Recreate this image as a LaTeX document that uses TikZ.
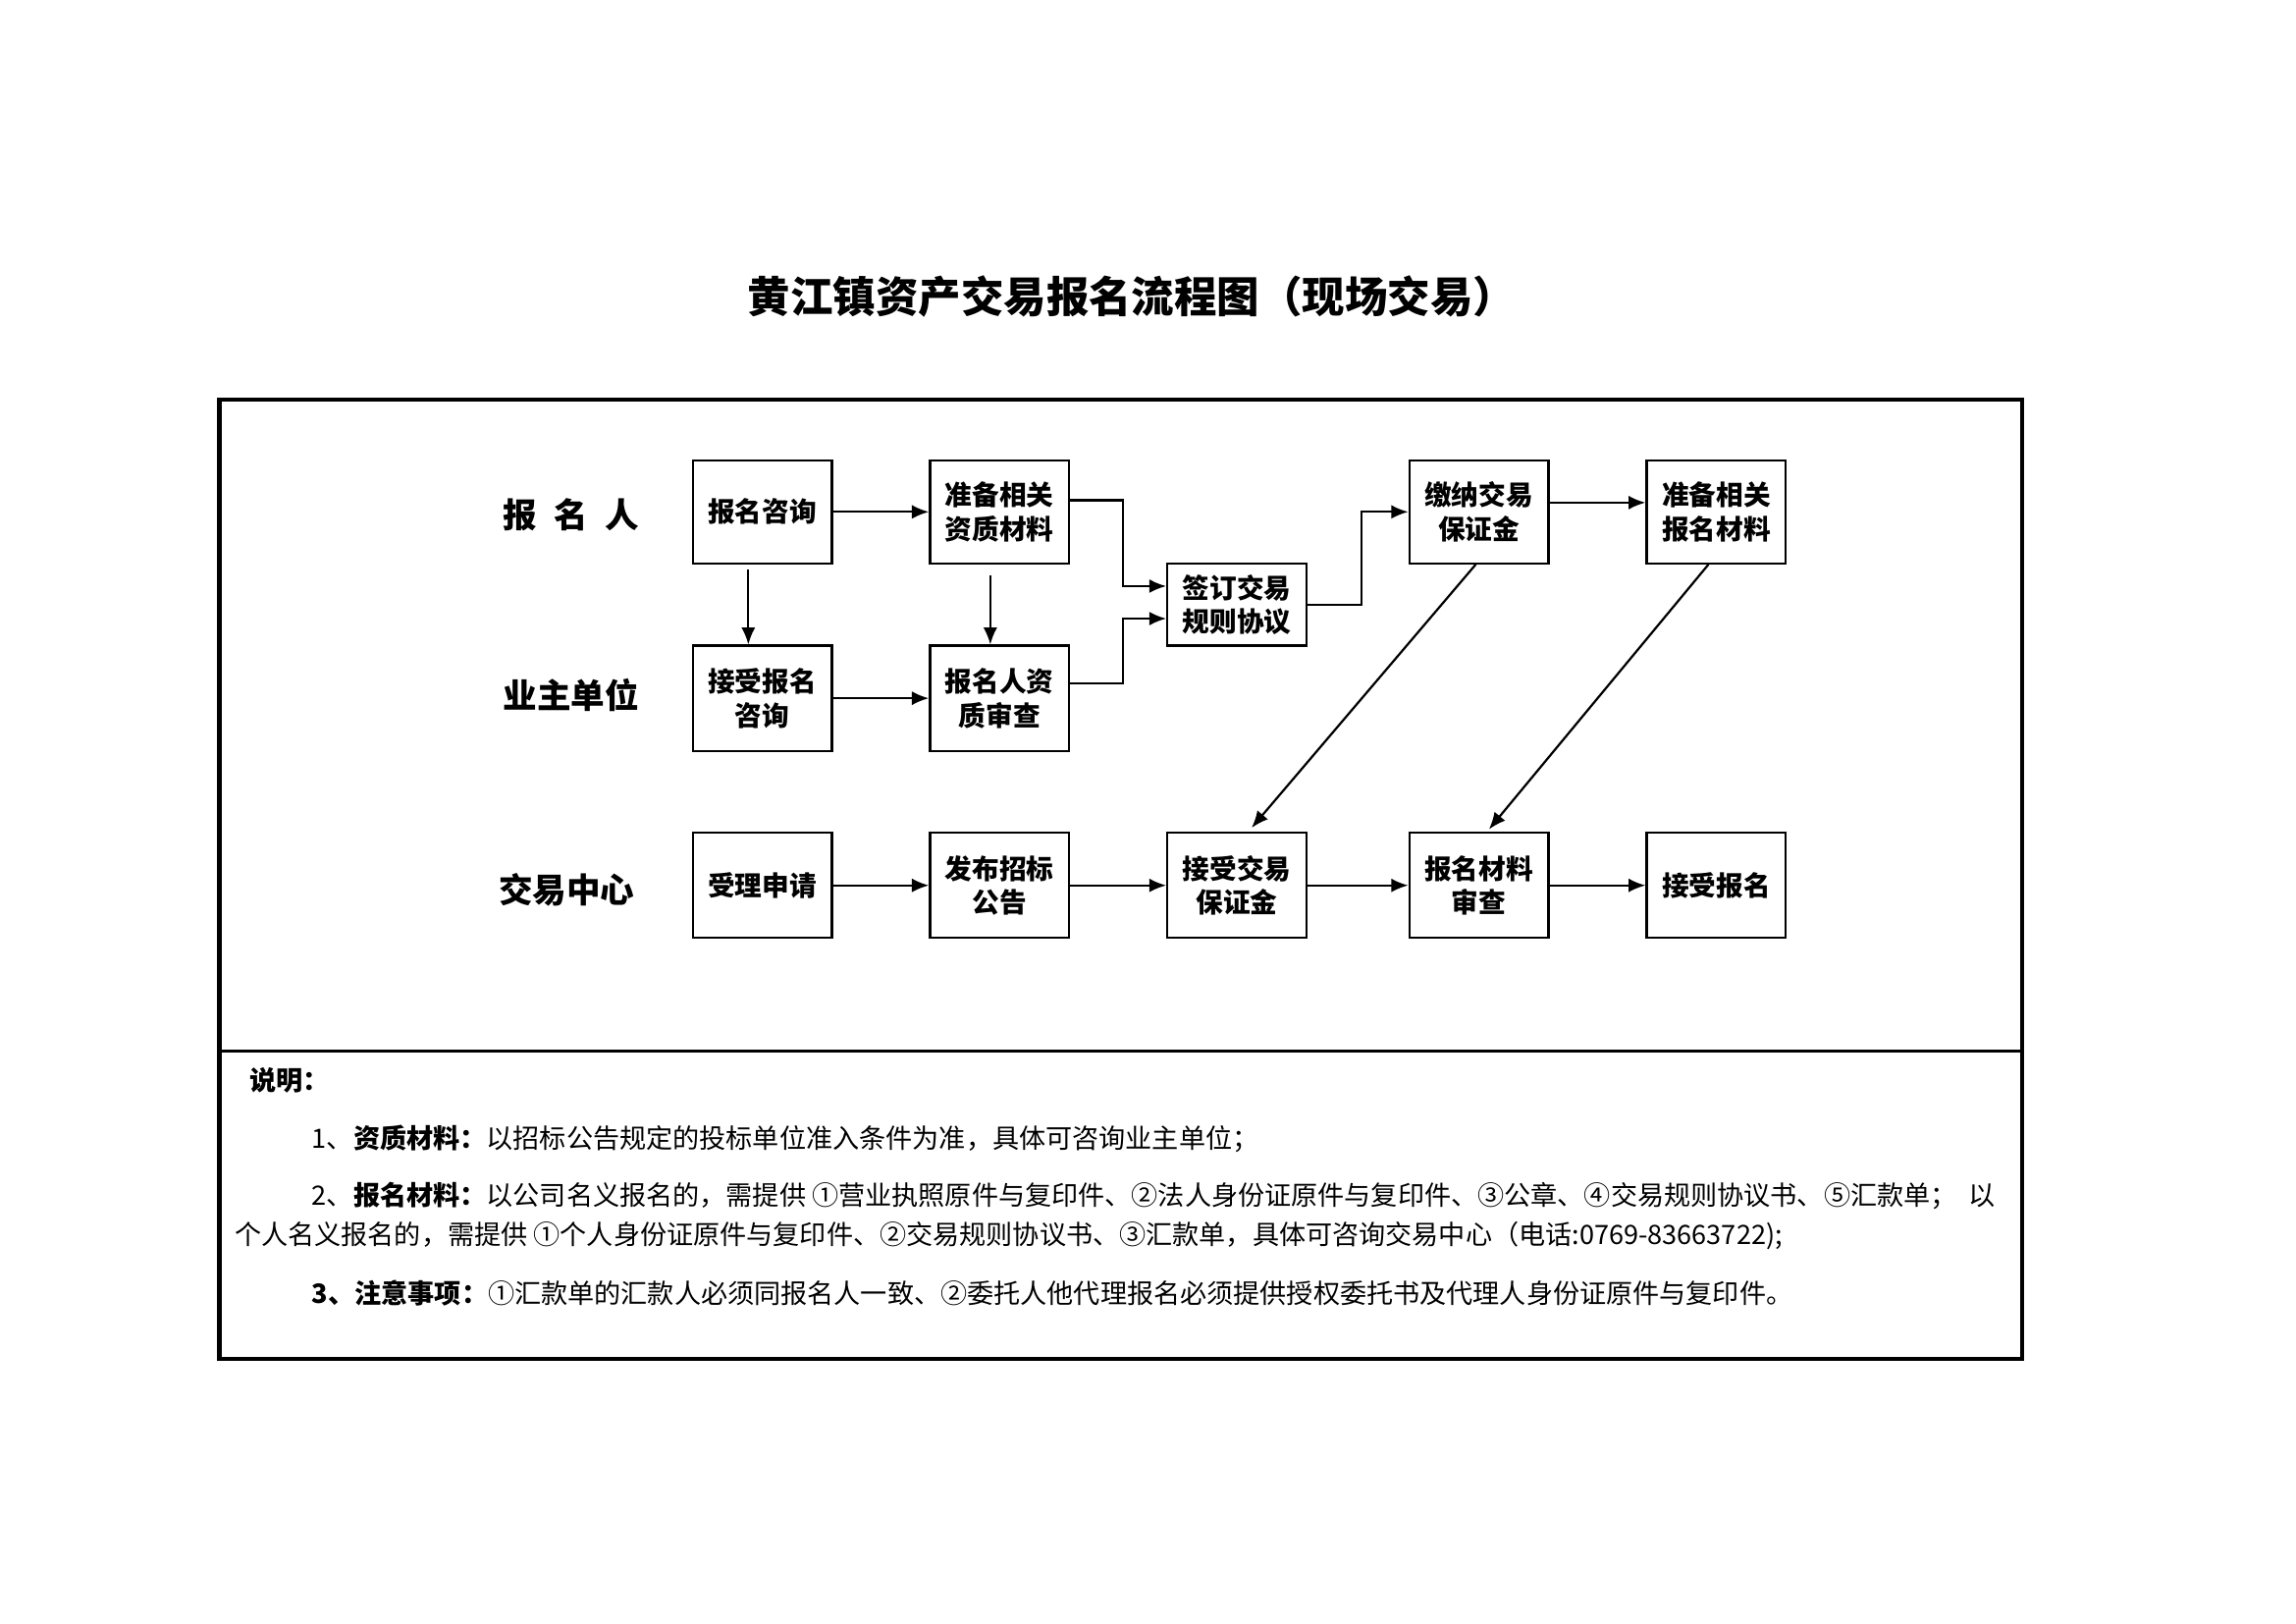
\documentclass[tikz,border=0pt]{standalone}
\usepackage{fontspec}
\setmainfont{Noto Sans CJK SC}
\usetikzlibrary{arrows.meta}

\begin{document}
\begin{tikzpicture}[
	box/.style={draw, line width=0.8pt, minimum width=1.8cm, minimum height=1.36cm, align=center, inner sep=1pt, font=\fontsize{10}{12.5}\selectfont\bfseries},
	lane/.style={font=\fontsize{12.5}{15}\selectfont\bfseries},
	flow/.style={-{Latex[length=2.2mm,width=1.8mm]}, line width=0.8pt},
	note/.style={anchor=west, inner sep=0pt, font=\fontsize{9.8}{12}\selectfont}
]
	\useasboundingbox (0,0) rectangle (29.7,21.0);

	\node[font=\fontsize{15.7}{18}\selectfont\bfseries] (title) at (14.64,17.16) {黄江镇资产交易报名流程图（现场交易）};

	\draw[line width=1.6pt] (2.84,3.43) rectangle (26.16,15.83);
	\draw[line width=1.2pt] (2.84,7.41) -- (26.16,7.41);

	% lanes
	\node[lane] (applicant) at (7.39,14.34) {报\hspace{0.5em}名\hspace{0.5em}人};
	\node[lane] (owner) at (7.39,12.01) {业主单位};
	\node[lane] (centre) at (7.33,9.49) {交易中心};

	% boxes
	\node[box, minimum height=1.33cm] (ask) at (9.86,14.38) {报名咨询};
	\node[box, minimum height=1.33cm] (qual) at (12.93,14.38) {准备相关\\资质材料};
	\node[box, minimum height=1.06cm] (sign) at (16.00,13.18) {签订交易\\规则协议};
	\node[box, minimum height=1.33cm] (pay) at (19.13,14.38) {缴纳交易\\保证金};
	\node[box, minimum height=1.33cm] (docs) at (22.20,14.38) {准备相关\\报名材料};

	\node[box] (take) at (9.86,11.97) {接受报名\\咨询};
	\node[box] (check) at (12.93,11.97) {报名人资\\质审查};

	\node[box] (accept) at (9.86,9.55) {受理申请};
	\node[box] (notice) at (12.93,9.55) {发布招标\\公告};
	\node[box] (deposit) at (16.00,9.55) {接受交易\\保证金};
	\node[box] (review) at (19.13,9.55) {报名材料\\审查};
	\node[box] (done) at (22.20,9.55) {接受报名};

	% connectors
	\draw[flow] (ask) -- (qual);
	\draw[flow, shorten <=2pt] ([xshift=-0.18cm]ask.south) -- ([xshift=-0.18cm]take.north);
	\draw[flow, shorten <=4pt] ([xshift=-0.12cm]qual.south) -- ([xshift=-0.12cm]check.north);
	\draw[flow] (take) -- (check);
	\draw[flow] ([yshift=0.15cm]qual.east) -- ++(0.68,0) |- ([yshift=0.24cm]sign.west);
	\draw[flow] ([yshift=0.19cm]check.east) -- ++(0.68,0) |- ([yshift=-0.18cm]sign.west);
	\draw[flow] (sign.east) -- ++(0.70,0) |- (pay.west);
	\draw[flow] ([yshift=0.12cm]pay.east) -- ([yshift=0.12cm]docs.west);
	\draw[flow] ([xshift=-0.04cm]pay.south) -- ([xshift=0.19cm,yshift=0.05cm]deposit.north);
	\draw[flow] ([xshift=-0.1cm]docs.south) -- ([xshift=0.13cm,yshift=0.03cm]review.north);

	\draw[flow] (accept) -- (notice);
	\draw[flow] (notice) -- (deposit);
	\draw[flow] (deposit) -- (review);
	\draw[flow] (review) -- (done);

	% notes
	\node[note] (n0) at (3.22,7.03) {\textbf{说明：}};
	\node[note] (n1) at (4.03,6.27) {1、\textbf{资质材料：}以招标公告规定的投标单位准入条件为准，具体可咨询业主单位；};
	\node[note] (n2) at (4.03,5.53) {2、\textbf{报名材料：}以公司名义报名的，需提供 ①营业执照原件与复印件、②法人身份证原件与复印件、③公章、④交易规则协议书、⑤汇款单；\ \ 以};
	\node[note] (n3) at (3.03,5.02) {个人名义报名的，需提供 ①个人身份证原件与复印件、②交易规则协议书、③汇款单，具体可咨询交易中心（电话:0769-83663722);};
	\node[note] (n4) at (4.03,4.28) {\textbf{3、注意事项：}①汇款单的汇款人必须同报名人一致、②委托人他代理报名必须提供授权委托书及代理人身份证原件与复印件。};
\end{tikzpicture}
\end{document}
